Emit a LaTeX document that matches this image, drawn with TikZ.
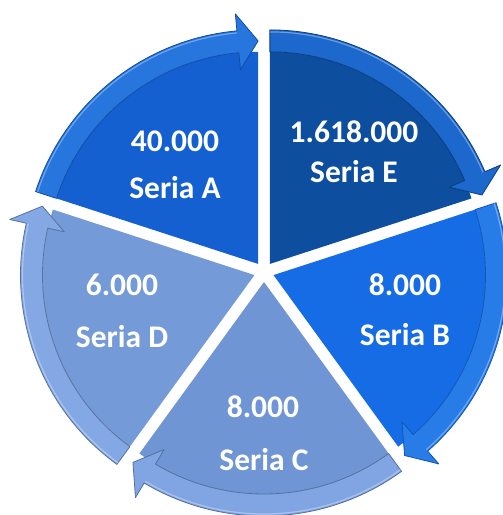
\documentclass[tikz,border=0pt]{standalone}
\usepackage{fontspec}
\setmainfont{Carlito}
\begin{document}
\begin{tikzpicture}[x=1pt,y=1pt,
  lbl/.style={text=white,font=\fontsize{31.5}{31.5}\selectfont\bfseries,inner sep=0pt}]
\definecolor{abody}{RGB}{21,96,208}
\definecolor{aband}{RGB}{38,118,222}
\definecolor{ebody}{RGB}{13,78,158}
\definecolor{eband}{RGB}{28,104,205}
\definecolor{bbody}{RGB}{22,108,228}
\definecolor{bband}{RGB}{40,124,232}
\definecolor{cbody}{RGB}{111,149,212}
\definecolor{cband}{RGB}{128,165,226}
\definecolor{dbody}{RGB}{116,154,215}
\definecolor{dband}{RGB}{132,168,228}
\useasboundingbox (0,0) rectangle (503,515);
\clip (0,0) rectangle (503,515);
\def\Ro{234pt}\def\Ri{212pt}\def\Rm{223pt}\def\Rw{195pt}\def\Rx{251pt}
\newcommand\pieseg[6]{%
 \begin{scope}[shift={(264,243)},shift={(#1:10pt)}]
  \fill[#4] (0,0) -- (#2:\Ri) arc[start angle=#2,end angle=#3,radius=\Ri] -- cycle;
  \fill[#5,draw=#6,line width=0.8pt,line join=round]
     (#2:\Ri) -- (#2:\Ro) arc[start angle=#2,end angle={#3+5.2},radius=\Ro]
     -- ({#3+5.2}:\Rx) -- (#3:\Rm) -- ({#3+5.2}:\Rw)
     -- ({#3+5.2}:\Ri) arc[start angle={#3+5.2},end angle=#2,radius=\Ri] -- cycle;
  \draw[white,opacity=0.35,line width=1.2pt] (#2:{\Ro-2pt}) arc[start angle=#2,end angle={#3+5.2},radius={\Ro-2pt}];
 \end{scope}}
\pieseg{126}{162}{90}{abody}{aband}{abody!80!black}
\pieseg{54}{90}{18}{ebody}{eband}{ebody!80!black}
\pieseg{-18}{18}{-54}{bbody}{bband}{bbody!80!black}
\pieseg{-90}{-54}{-126}{cbody}{cband}{cbody!75!black}
\pieseg{-162}{-126}{-198}{dbody}{dband}{dbody!75!black}
% labels
\foreach \n/\x/\y/\t in {an/175/374/40.000, al/175/327/Seria A,
  en/354/383/1.618.000, el/354/343/Seria E,
  bn/405/230/8.000, bl/405/180/Seria B,
  cn/263/108/8.000, cl/264/55/Seria C,
  dn/122/230/6.000, dl/122/178/Seria D}{
  \node[lbl] (\n) at (\x,\y) {\t};
}
\end{tikzpicture}
\end{document}
